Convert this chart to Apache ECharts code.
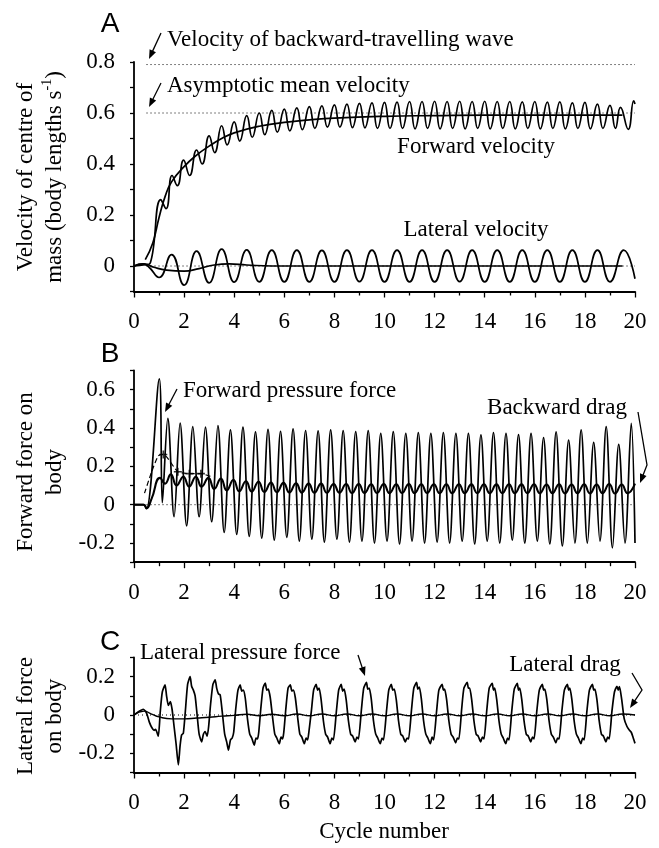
<!DOCTYPE html>
<html><head><meta charset="utf-8">
<script src="https://cdn.jsdelivr.net/npm/echarts@6/dist/echarts.min.js"></script>
<style>html,body{margin:0;padding:0;background:#fff}#c{width:659px;height:848px}</style>
</head><body><div id="c"></div>
<script>
// ---------- tick labels ----------
const xTickLabels = ['0','2','4','6','8','10','12','14','16','18','20'];
const yTickLabelsA = ['0.8','0.6','0.4','0.2','0','-0.2'];
const yTickLabelsB = ['0.6','0.4','0.2','0','-0.2'];
const yTickLabelsC = ['0.2','0','-0.2'];

// ---------- Panel A: velocity of centre of mass ----------
const forwardVelocity = [[0,0],[0.45,0.005],[0.65,0.012],[1.07,0.26],[1.28,0.225],[1.52,0.355],[1.73,0.315],[1.98,0.415],[2.22,0.355],[2.5,0.455],[2.72,0.4],[3.0,0.51],[3.22,0.445],[3.5,0.55],[3.72,0.475],[4.0,0.565],[4.22,0.49],[4.5,0.59],[4.72,0.505],[5.0,0.6],[5.22,0.515],[5.5,0.61],[5.72,0.525],[6.0,0.615],[6.22,0.53],[6.5,0.62],[6.72,0.535],[7.0,0.625],[7.22,0.54],[7.5,0.628],[7.72,0.545],[8.0,0.632],[8.22,0.545],[8.5,0.635],[8.72,0.543],[9.0,0.638],[9.22,0.542],[9.5,0.64],[9.72,0.54],[10.0,0.642],[10.22,0.54],[10.5,0.643],[10.72,0.54],[11.0,0.645],[11.22,0.538],[11.5,0.645],[11.72,0.54],[12.0,0.646],[12.22,0.538],[12.5,0.645],[12.72,0.54],[13.0,0.646],[13.22,0.538],[13.5,0.645],[13.72,0.54],[14.0,0.646],[14.22,0.538],[14.5,0.645],[14.72,0.54],[15.0,0.645],[15.22,0.538],[15.5,0.644],[15.72,0.54],[16.0,0.645],[16.22,0.538],[16.5,0.643],[16.72,0.54],[17.0,0.644],[17.22,0.538],[17.5,0.64],[17.72,0.54],[18.0,0.642],[18.22,0.538],[18.5,0.635],[18.72,0.54],[19.0,0.63],[19.22,0.54],[19.42,0.622],[19.73,0.536],[19.95,0.648],[20.0,0.635]];
const forwardVelocityMean = [[0.45,0.025],[0.75,0.09],[1.0,0.19],[1.25,0.275],[1.5,0.33],[2.0,0.39],[2.5,0.435],[3.0,0.47],[3.5,0.5],[4.0,0.522],[5.0,0.548],[6.0,0.563],[7.0,0.573],[8.0,0.58],[10.0,0.587],[12.0,0.59],[14.0,0.592],[16.0,0.592],[18.0,0.592],[19.5,0.592]];
const lateralVelocity = [[0,0],[0.35,0.008],[0.6,-0.005],[1.0,-0.045],[1.5,0.045],[2.0,-0.075],[2.5,0.058],[3.0,-0.066],[3.5,0.066],[4.0,-0.063],[4.5,0.063],[5.0,-0.062],[5.5,0.062],[6.0,-0.062],[6.5,0.062],[7.0,-0.062],[7.5,0.061],[8.0,-0.062],[8.5,0.062],[9.0,-0.061],[9.5,0.062],[10.0,-0.062],[10.5,0.062],[11.0,-0.062],[11.5,0.062],[12.0,-0.062],[12.5,0.062],[13.0,-0.061],[13.5,0.062],[14.0,-0.062],[14.5,0.062],[15.0,-0.062],[15.5,0.062],[16.0,-0.062],[16.5,0.062],[17.0,-0.062],[17.5,0.062],[18.0,-0.062],[18.5,0.062],[19.0,-0.062],[19.55,0.062],[20.0,-0.05]];
const lateralVelocityMean = [[0,0],[0.4,0.008],[0.8,-0.005],[1.3,-0.016],[2.0,-0.02],[2.6,-0.01],[3.2,0.004],[3.8,0.008],[4.5,0.004],[5.5,0.0],[19.5,0.0]];
const refLevelsA = [0.79, 0.6, 0];
const refSpanA = [0.5, 20];

// ---------- Panel B: forward force on body ----------
const forwardPressureForce = [[0,0],[0.37,0],[0.5,-0.02],[1.01,0.656],[1.13,0.01],[1.35,0.45],[1.6,-0.063],[1.84,0.425],[2.1,-0.11],[2.35,0.407],[2.6,-0.063],[2.85,0.405],[3.1,-0.089],[3.35,0.412],[3.6,-0.145],[3.85,0.39],[4.1,-0.155],[4.35,0.405],[4.6,-0.165],[4.85,0.38],[5.1,-0.175],[5.35,0.393],[5.6,-0.185],[5.85,0.383],[6.1,-0.17],[6.35,0.395],[6.6,-0.19],[6.85,0.387],[7.1,-0.18],[7.35,0.385],[7.6,-0.195],[7.85,0.39],[8.1,-0.18],[8.35,0.386],[8.6,-0.195],[8.85,0.381],[9.1,-0.19],[9.35,0.386],[9.6,-0.2],[9.85,0.372],[10.1,-0.19],[10.35,0.381],[10.6,-0.205],[10.85,0.372],[11.1,-0.19],[11.35,0.376],[11.6,-0.2],[11.85,0.372],[12.1,-0.195],[12.35,0.376],[12.6,-0.2],[12.85,0.372],[13.1,-0.19],[13.35,0.372],[13.6,-0.205],[13.85,0.364],[14.1,-0.19],[14.35,0.376],[14.6,-0.2],[14.85,0.372],[15.1,-0.185],[15.35,0.366],[15.6,-0.2],[15.85,0.372],[16.1,-0.19],[16.35,0.35],[16.6,-0.205],[16.85,0.38],[17.1,-0.215],[17.35,0.337],[17.6,-0.2],[17.85,0.39],[18.1,-0.2],[18.35,0.325],[18.6,-0.19],[18.85,0.407],[19.1,-0.225],[19.35,0.315],[19.6,-0.2],[19.85,0.424],[20.0,-0.2]];
const backwardDrag = [[0,0],[0.4,0],[0.5,-0.02],[0.7,0.03],[1.04,0.14],[1.24,0.11],[1.47,0.158],[1.7,0.1],[1.97,0.146],[2.2,0.094],[2.47,0.146],[2.7,0.094],[2.97,0.14],[3.2,0.082],[3.47,0.136],[3.7,0.074],[3.97,0.13],[4.2,0.07],[4.47,0.122],[4.7,0.068],[4.97,0.12],[5.2,0.066],[5.47,0.116],[5.7,0.065],[5.97,0.114],[6.2,0.064],[6.47,0.112],[6.7,0.063],[6.97,0.11],[7.2,0.062],[7.47,0.11],[7.7,0.062],[7.97,0.108],[8.2,0.062],[8.47,0.108],[8.7,0.061],[8.97,0.108],[9.2,0.061],[9.47,0.107],[9.7,0.061],[9.97,0.108],[10.2,0.06],[10.47,0.107],[10.7,0.061],[10.97,0.108],[11.2,0.06],[11.47,0.107],[11.7,0.061],[11.97,0.107],[12.2,0.06],[12.47,0.107],[12.7,0.06],[12.97,0.107],[13.2,0.06],[13.47,0.106],[13.7,0.06],[13.97,0.107],[14.2,0.06],[14.47,0.106],[14.7,0.06],[14.97,0.107],[15.2,0.06],[15.47,0.106],[15.7,0.06],[15.97,0.107],[16.2,0.06],[16.47,0.105],[16.7,0.06],[16.97,0.107],[17.2,0.059],[17.47,0.105],[17.7,0.06],[17.97,0.107],[18.2,0.059],[18.47,0.105],[18.7,0.06],[18.97,0.108],[19.2,0.058],[19.47,0.105],[19.7,0.06],[20.0,0.11]];
const meanThrustLine = [[0.42,0.06],[0.7,0.17],[0.97,0.255],[1.17,0.262],[1.75,0.172],[2.21,0.162],[2.67,0.162],[3.1,0.145]];
const meanThrustMarks = [[1.17,0.262],[1.75,0.172],[2.21,0.162],[2.67,0.162]];
const refLevelsB = [0];
const refSpanB = [0.5, 20];

// ---------- Panel C: lateral force on body ----------
const lateralPressureForce = [[0,0],[0.15,0.015],[0.37,0.03],[0.5,0.01],[0.62,-0.04],[0.71,-0.065],[0.8,-0.08],[0.86,-0.075],[0.97,-0.11],
[1.05,0.02],[1.13,0.12],[1.24,0.157],[1.3,0.1],[1.37,0.05],[1.45,0.07],[1.52,0.03],[1.6,-0.06],[1.68,-0.15],[1.77,-0.26],[1.84,-0.16],[1.9,-0.104],[1.97,-0.095],
[2.05,0.02],[2.14,0.16],[2.24,0.2],[2.3,0.15],[2.37,0.13],[2.44,0.1],[2.52,0.0],[2.6,-0.1],[2.7,-0.14],[2.77,-0.1],[2.84,-0.087],[2.92,-0.11],[2.98,-0.06],
[3.06,0.06],[3.15,0.16],[3.24,0.183],[3.3,0.14],[3.37,0.11],[3.44,0.105],[3.52,0.02],[3.62,-0.1],[3.7,-0.14],[3.77,-0.183],[3.85,-0.13],[3.92,-0.12],[3.98,-0.09],
[4.06,0.03],[4.15,0.13],[4.24,0.157],[4.3,0.125],[4.36,0.13],[4.44,0.09],[4.53,-0.02],[4.62,-0.1],[4.7,-0.12],[4.8,-0.157],[4.87,-0.12],[4.93,-0.125],[4.98,-0.09],
[5.06,0.03],[5.15,0.14],[5.24,0.167],[5.3,0.13],[5.36,0.135],[5.44,0.09],[5.53,-0.01],[5.62,-0.1],[5.7,-0.12],[5.8,-0.15],[5.87,-0.115],[5.93,-0.125],[5.98,-0.09],
[6.06,0.03],[6.15,0.14],[6.24,0.157],[6.3,0.125],[6.36,0.13],[6.44,0.09],[6.53,-0.01],[6.62,-0.1],[6.7,-0.115],[6.8,-0.15],[6.87,-0.12],[6.93,-0.13],[6.98,-0.09],
[7.08,0.02],[7.17,0.13],[7.27,0.16],[7.33,0.13],[7.39,0.14],[7.47,0.08],[7.56,-0.03],[7.65,-0.1],[7.73,-0.115],[7.83,-0.15],[7.9,-0.12],[7.96,-0.13],
[8.08,0.02],[8.17,0.13],[8.27,0.16],[8.33,0.125],[8.39,0.135],[8.47,0.08],[8.56,-0.03],[8.65,-0.1],[8.73,-0.11],[8.83,-0.14],[8.9,-0.115],[8.96,-0.125],
[9.08,0.03],[9.17,0.14],[9.28,0.17],[9.33,0.135],[9.39,0.14],[9.47,0.085],[9.56,-0.03],[9.65,-0.1],[9.73,-0.12],[9.83,-0.15],[9.9,-0.12],[9.96,-0.13],
[10.08,0.02],[10.17,0.13],[10.27,0.16],[10.33,0.13],[10.39,0.135],[10.47,0.08],[10.56,-0.03],[10.65,-0.1],[10.73,-0.11],[10.83,-0.14],[10.9,-0.12],[10.96,-0.125],
[11.08,0.03],[11.17,0.14],[11.28,0.17],[11.33,0.135],[11.39,0.145],[11.47,0.085],[11.56,-0.03],[11.65,-0.1],[11.73,-0.12],[11.83,-0.15],[11.9,-0.115],[11.96,-0.13],
[12.08,0.02],[12.17,0.13],[12.3,0.16],[12.35,0.13],[12.4,0.135],[12.48,0.08],[12.57,-0.03],[12.66,-0.1],[12.74,-0.115],[12.84,-0.145],[12.91,-0.12],[12.97,-0.125],
[13.08,0.03],[13.17,0.14],[13.3,0.17],[13.35,0.14],[13.4,0.14],[13.48,0.08],[13.57,-0.03],[13.66,-0.1],[13.74,-0.11],[13.84,-0.14],[13.91,-0.115],[13.97,-0.125],
[14.08,0.02],[14.18,0.14],[14.3,0.165],[14.35,0.13],[14.4,0.14],[14.48,0.08],[14.57,-0.03],[14.66,-0.1],[14.74,-0.12],[14.84,-0.15],[14.91,-0.12],[14.97,-0.13],
[15.08,0.02],[15.18,0.135],[15.3,0.165],[15.35,0.13],[15.4,0.14],[15.48,0.08],[15.57,-0.03],[15.66,-0.1],[15.74,-0.11],[15.84,-0.14],[15.91,-0.115],[15.97,-0.125],
[16.08,0.02],[16.18,0.13],[16.3,0.16],[16.35,0.13],[16.4,0.135],[16.48,0.08],[16.57,-0.03],[16.66,-0.1],[16.74,-0.115],[16.84,-0.145],[16.91,-0.12],[16.97,-0.125],
[17.08,0.02],[17.18,0.13],[17.3,0.16],[17.35,0.13],[17.4,0.14],[17.48,0.08],[17.57,-0.03],[17.66,-0.1],[17.74,-0.12],[17.84,-0.15],[17.91,-0.12],[17.97,-0.13],
[18.08,0.02],[18.18,0.13],[18.3,0.16],[18.35,0.13],[18.4,0.135],[18.48,0.08],[18.57,-0.03],[18.66,-0.1],[18.74,-0.11],[18.84,-0.14],[18.91,-0.115],[18.97,-0.125],
[19.08,0.02],[19.18,0.12],[19.28,0.15],[19.33,0.13],[19.38,0.148],[19.47,0.08],[19.57,-0.02],[19.68,-0.06],[19.77,-0.078],[19.85,-0.09],[19.93,-0.12],[20.0,-0.148]];
const lateralDrag = [[0,0],[0.4,0.02],[0.7,0.005],[1.0,-0.01],[1.5,-0.02],[2.0,-0.02],[2.5,-0.016],[3.0,-0.012],[3.5,-0.006],[4.0,-0.002],[4.5,0.004],[5.0,-0.004],[5.5,0.004],[6.0,-0.004],[6.5,0.005],[7.0,-0.004],[7.5,0.005],[8.0,-0.004],[8.5,0.005],[9.0,-0.004],[9.5,0.005],[10.0,-0.004],[10.5,0.005],[11.0,-0.004],[11.5,0.005],[12.0,-0.004],[12.5,0.005],[13.0,-0.004],[13.5,0.005],[14.0,-0.004],[14.5,0.005],[15.0,-0.004],[15.5,0.005],[16.0,-0.004],[16.5,0.005],[17.0,-0.004],[17.5,0.005],[18.0,-0.004],[18.5,0.005],[19.0,-0.004],[19.5,0.005],[20.0,0.0]];
const refLevelsC = [0];
const refSpanC = [0, 20];

// ---------- build ----------
const SERIF = "'Liberation Serif','Times New Roman',serif";
const SANS = "'Liberation Sans',Arial,sans-serif";
const chart = echarts.init(document.getElementById('c'), null, {renderer:'canvas'});

function fmt(v){ return String(Math.round(v*10)/10); }
function xAxisCfg(gi){
  return {type:'value', gridIndex:gi, min:0, max:20, interval:2,
    axisLine:{show:true, onZero:false, lineStyle:{color:'#000', width:1.8}},
    axisTick:{show:true, inside:false, length:6, lineStyle:{color:'#000', width:1.3}},
    minorTick:{show:true, splitNumber:2, length:4, lineStyle:{color:'#000', width:1.3}},
    axisLabel:{show:true, margin:19, color:'#000', fontFamily:SERIF, fontSize:23,
      formatter:v=>{const s=String(Math.round(v)); return xTickLabels.includes(s)?s:'';}},
    splitLine:{show:false}, minorSplitLine:{show:false}};
}
function yAxisCfg(gi,min,max,labels){
  return {type:'value', gridIndex:gi, min:min, max:max, interval:0.1,
    axisLine:{show:true, onZero:false, lineStyle:{color:'#000', width:1.8}},
    axisTick:{show:true, inside:false, length:4, lineStyle:{color:'#000', width:1.3}},
    axisLabel:{show:true, margin:19, color:'#000', fontFamily:SERIF, fontSize:23,
      formatter:v=>{const s=fmt(v); return labels.includes(s)?s:'';}},
    splitLine:{show:false}};
}
function lineS(data, gi, opts){
  opts = opts||{};
  return {type:'line', xAxisIndex:gi, yAxisIndex:gi, data:data, showSymbol:false, symbol:'none',
    smooth: opts.smooth===undefined?0.5:opts.smooth, silent:true, z: opts.z||3,
    lineStyle:{color:'#000', width: opts.width||1.7, type: opts.type||'solid'}};
}
function refS(levels, span, gi){
  return levels.map(l=>({type:'line', xAxisIndex:gi, yAxisIndex:gi, data:[[span[0],l],[span[1],l]],
    showSymbol:false, symbol:'none', silent:true, z:1,
    lineStyle:{color:'#000', width:1, type:[1,3]}}));
}
function arrow(pts, head, hw){
  head = head||9; hw = hw||3.5;
  const n=pts.length, a=pts[n-2], b=pts[n-1];
  const dx=b[0]-a[0], dy=b[1]-a[1], L=Math.hypot(dx,dy), ux=dx/L, uy=dy/L;
  const bx=b[0]-ux*head, by=b[1]-uy*head;
  const line = pts.slice(0,n-1).concat([[bx+ux*2, by+uy*2]]);
  return [
    {type:'polyline', shape:{points:line}, style:{stroke:'#000', lineWidth:1.3, fill:null}, z:10},
    {type:'polygon', shape:{points:[[b[0],b[1]],[bx-uy*hw,by+ux*hw],[bx+uy*hw,by-ux*hw]]}, style:{fill:'#000'}, z:10}
  ];
}
function txt(x,y,s,opt){
  opt=opt||{};
  return {type:'text', x:x, y:y, rotation:opt.rotation||0, z:10,
    style:{text:s, fill:'#000', fontFamily:opt.font||SERIF, fontSize:opt.size||23,
      align:opt.align||'center', textAlign:opt.align||'center', verticalAlign:'middle', textVerticalAlign:'middle',
      lineHeight:opt.lh||undefined, rich:opt.rich||undefined}};
}

const series = [].concat(
  refS(refLevelsA, refSpanA, 0),
  [lineS(forwardVelocity,0), lineS(forwardVelocityMean,0,{width:1.7}), lineS(lateralVelocity,0), lineS(lateralVelocityMean,0,{width:1.7})],
  refS(refLevelsB, refSpanB, 1),
  [lineS(forwardPressureForce,1,{smooth:0.35}), lineS(backwardDrag,1,{width:2.1}),
   lineS(meanThrustLine,1,{type:[5,3], width:1.2, smooth:0.2}),
   {type:'scatter', xAxisIndex:1, yAxisIndex:1, data:meanThrustMarks, symbol:'path://M4,0H6V4H10V6H6V10H4V6H0V4H4Z', symbolSize:8, itemStyle:{color:'#000'}, silent:true, z:4}],
  refS(refLevelsC, refSpanC, 2),
  [lineS(lateralPressureForce,2,{smooth:0.2}), lineS(lateralDrag,2,{smooth:0.5, width:1.4})]
);

const graphics = [].concat(
  [txt(110,24,'A',{font:SANS,size:28}), txt(110,354,'B',{font:SANS,size:28}), txt(110,642,'C',{font:SANS,size:28})],
  [txt(167,40,'Velocity of backward-travelling wave',{align:'left'}),
   txt(167,86,'Asymptotic mean velocity',{align:'left'}),
   txt(476,147,'Forward velocity'),
   txt(476,230,'Lateral velocity')],
  arrow([[161,33],[149,59]]), arrow([[161,83],[149,107]]),
  [txt(183,391,'Forward pressure force',{align:'left'}), txt(557,408,'Backward drag')],
  arrow([[177,389],[165,412]]), arrow([[638,412],[647,465],[640,483]]),
  [txt(140,653,'Lateral pressure force',{align:'left'}), txt(565,665,'Lateral drag')],
  arrow([[358,655],[365,676]]), arrow([[632,673],[642,690],[630,708]]),
  [txt(384,832,'Cycle number')],
  [txt(40,177,'Velocity of centre of\nmass (body lengths s{sup|-1})',{rotation:Math.PI/2, lh:29,
      rich:{sup:{fontSize:14, fontFamily:SERIF, verticalAlign:'top', fill:'#000'}}}),
   txt(40,472,'Forward force on\nbody',{rotation:Math.PI/2, lh:29}),
   txt(40,716,'Lateral force\non body',{rotation:Math.PI/2, lh:29})]
);

chart.setOption({
  animation:false,
  backgroundColor:'#fff',
  grid:[
    {left:134, top:62, width:501, height:229.5, containLabel:false, outerBoundsMode:'none'},
    {left:134, top:370.5, width:501, height:191.7, containLabel:false, outerBoundsMode:'none'},
    {left:134, top:657.5, width:501, height:115, containLabel:false, outerBoundsMode:'none'}
  ],
  xAxis:[xAxisCfg(0), xAxisCfg(1), xAxisCfg(2)],
  yAxis:[yAxisCfg(0,-0.1,0.8,yTickLabelsA), yAxisCfg(1,-0.3,0.7,yTickLabelsB), yAxisCfg(2,-0.3,0.3,yTickLabelsC)],
  series:series,
  graphic:graphics
});
</script></body></html>
